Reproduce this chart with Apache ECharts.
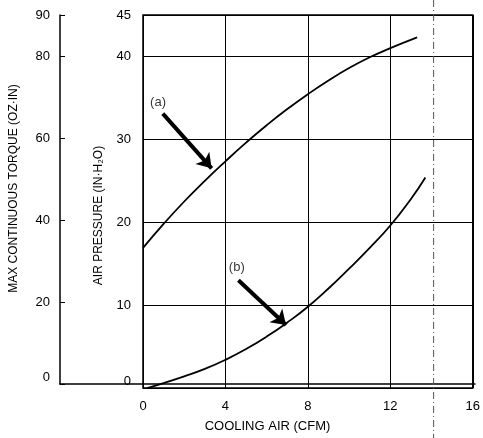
<!DOCTYPE html>
<html>
<head>
<meta charset="utf-8">
<script src="https://cdn.jsdelivr.net/npm/echarts@6/dist/echarts.min.js"></script>
<style>
  html, body { margin: 0; padding: 0; background: #fff; }
  #main { width: 483px; height: 438px; }
</style>
</head>
<body>
<div id="main"></div>
<script>
// cooling air (CFM) vs air pressure (IN-H2O)
const curveA = [[0, 16.9], [1, 19.8], [2, 22.5], [3, 25.0], [4, 27.35], [5, 29.6], [6, 31.7],
                [7, 33.65], [8, 35.45], [9, 37.1], [10, 38.6], [11, 39.9], [12, 41.0], [13.3, 42.3]]
const curveB = [[0.2, 0], [1, 0.6], [2, 1.4], [3, 2.3], [4, 3.4], [5, 4.7], [6, 6.2], [7, 7.9],
                [8, 9.8], [9, 12.0], [10, 14.4], [11, 16.9], [12, 19.6], [13, 22.8], [13.7, 25.4]]
const arrowA = [[0.96, 33.1], [3.33, 26.5]]
const arrowB = [[4.63, 13.0], [6.94, 7.6]]
const labelA = [0.73, 34.5]
const labelB = [4.55, 14.6]
const refX = 14.1
const xTicks = [0, 16, 4]        // min, max, interval
const pressureTicks = [0, 45, 10]
const torqueTicks = [0, 90, 20]

const font = 'Liberation Sans, Arial, sans-serif'
let myChart = echarts.init(document.getElementById('main'))

// the two "0" labels sit a little above the baseline in the original
const zeroUp = {
    formatter: v => v === 0 ? '{z|0}' : String(v),
    rich: { z: { fontSize: 13, fontFamily: font, color: '#000', padding: [0, 0, 13, 0] } }
}

let option = {
    animation: false,
    textStyle: { fontFamily: font, color: '#000' },
    grid: [
        { left: 143, right: 8, top: 15, bottom: 50, show: true, borderColor: '#000', borderWidth: 1.5 },
        { left: 58, right: 8, top: 15, bottom: 50 }
    ],
    xAxis: [
        {
            gridIndex: 0, type: 'value', min: xTicks[0], max: xTicks[1], interval: xTicks[2],
            axisLine: { show: false }, axisTick: { show: false },
            axisLabel: { color: '#000', fontSize: 13, margin: 12, fontFamily: font },
            splitLine: { show: true, lineStyle: { color: '#000', width: 1 } }
        },
        {
            gridIndex: 1, type: 'value', min: 0, max: 1,
            axisLine: { show: true, lineStyle: { color: '#000', width: 1.5 } },
            axisTick: { show: false }, axisLabel: { show: false }, splitLine: { show: false },
            name: 'COOLING AIR (CFM)', nameLocation: 'middle', nameGap: 36,
            nameTextStyle: { fontSize: 13, color: '#000', fontFamily: font }
        }
    ],
    yAxis: [
        {
            gridIndex: 0, type: 'value', min: pressureTicks[0], max: pressureTicks[1], interval: pressureTicks[2],
            axisLine: { show: false }, axisTick: { show: false },
            axisLabel: Object.assign({ color: '#000', fontSize: 13, margin: 12, fontFamily: font }, zeroUp),
            splitLine: { show: true, lineStyle: { color: '#000', width: 1 } },
            name: 'AIR PRESSURE (IN·H₂O)', nameLocation: 'middle', nameGap: 38, nameRotate: 90,
            nameTextStyle: { fontSize: 12, color: '#000', fontFamily: font, padding: [0, 28, 0, 0] }
        },
        {
            gridIndex: 1, type: 'value', min: torqueTicks[0], max: torqueTicks[1], interval: torqueTicks[2],
            axisLine: { show: true, lineStyle: { color: '#000', width: 1.5 } },
            axisTick: { show: true, inside: true, length: 5, lineStyle: { color: '#000' } },
            axisLabel: Object.assign({ color: '#000', fontSize: 13, margin: 10, fontFamily: font }, zeroUp),
            splitLine: { show: false },
            name: 'MAX CONTINUOUS TORQUE (OZ·IN)', nameLocation: 'middle', nameGap: 40, nameRotate: 90,
            nameTextStyle: { fontSize: 12, color: '#000', fontFamily: font, padding: [0, 0, 0, 22] }
        }
    ],
    series: [
        {
            name: 'a', type: 'line', xAxisIndex: 0, yAxisIndex: 0, data: curveA,
            smooth: 0.5, showSymbol: false, lineStyle: { color: '#000', width: 1.8 }
        },
        {
            name: 'b', type: 'line', xAxisIndex: 0, yAxisIndex: 0, data: curveB,
            smooth: 0.5, showSymbol: false, lineStyle: { color: '#000', width: 1.8 }
        },
        {
            type: 'lines', coordinateSystem: 'cartesian2d', xAxisIndex: 0, yAxisIndex: 0,
            symbol: ['none', 'arrow'], symbolSize: [11, 14],
            lineStyle: { color: '#000', width: 4, opacity: 1 },
            data: [{ coords: arrowA }, { coords: arrowB }]
        },
        {
            type: 'scatter', xAxisIndex: 0, yAxisIndex: 0, symbolSize: 0,
            label: { show: true, position: 'inside', color: '#000', fontSize: 13, fontFamily: font,
                     formatter: p => p.name },
            data: [{ name: '(a)', value: labelA }, { name: '(b)', value: labelB }]
        }
    ]
}
myChart.setOption(option)

// dash-dot reference line runs the full height of the picture
let refPx = myChart.convertToPixel({ xAxisIndex: 0, yAxisIndex: 0 }, [refX, 0])[0]
myChart.setOption({
    graphic: [{
        type: 'line', z: 100,
        shape: { x1: refPx, y1: 0, x2: refPx, y2: 438 },
        style: { stroke: '#555', lineWidth: 1, lineDash: [7, 3, 1, 3] }
    }]
})
</script>
</body>
</html>
